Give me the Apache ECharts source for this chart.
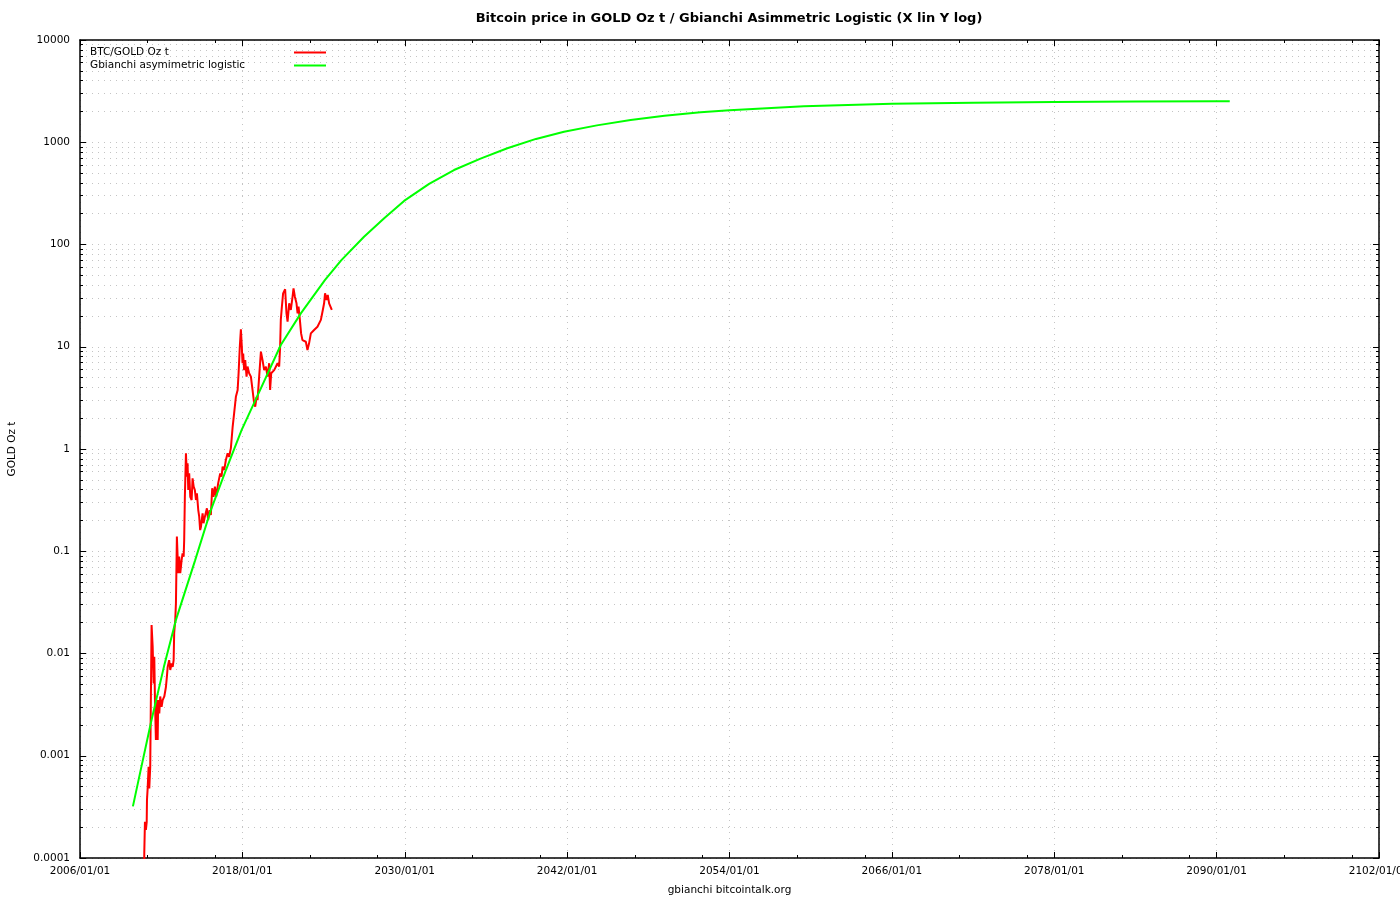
<!DOCTYPE html>
<html><head><meta charset="utf-8">
<script src="https://cdn.jsdelivr.net/npm/echarts@6/dist/echarts.min.js"></script>
<style>html,body{margin:0;padding:0;background:#fff}#c{width:1400px;height:900px}</style>
</head><body><div id="c"></div>
<script>
// ---- data ----
const btcYears = [2010.74, 2010.75, 2010.80, 2010.87, 2010.93, 2010.95, 2011.00, 2011.07, 2011.12, 2011.19,
  2011.29, 2011.37, 2011.44, 2011.49, 2011.54, 2011.61, 2011.69, 2011.74, 2011.78, 2011.86,
  2011.93, 2012.03, 2012.11, 2012.23, 2012.35, 2012.42, 2012.48, 2012.59, 2012.67, 2012.77,
  2012.85, 2012.92, 2012.96, 2013.04, 2013.09, 2013.16, 2013.26, 2013.33, 2013.41, 2013.51,
  2013.58, 2013.66, 2013.70, 2013.75, 2013.83, 2013.90, 2013.95, 2014.00, 2014.07, 2014.15,
  2014.25, 2014.32, 2014.40, 2014.49, 2014.57, 2014.64, 2014.74, 2014.81, 2014.88, 2014.94,
  2015.06, 2015.13, 2015.23, 2015.38, 2015.47, 2015.58, 2015.67, 2015.77, 2015.87, 2015.97,
  2016.06, 2016.21, 2016.36, 2016.46, 2016.54, 2016.66, 2016.78, 2016.91, 2017.02, 2017.15,
  2017.28, 2017.39, 2017.52, 2017.65, 2017.72, 2017.81, 2017.89, 2017.96, 2018.01, 2018.06,
  2018.13, 2018.21, 2018.31, 2018.38, 2018.50, 2018.63, 2018.75, 2018.87, 2018.95, 2019.05,
  2019.12, 2019.24, 2019.37, 2019.49, 2019.61, 2019.74, 2019.86, 2019.98, 2020.05, 2020.13,
  2020.23, 2020.35, 2020.47, 2020.60, 2020.72, 2020.79, 2020.84, 2020.92, 2021.01, 2021.16,
  2021.26, 2021.34, 2021.46, 2021.58, 2021.71, 2021.78, 2021.88, 2022.00, 2022.08, 2022.15,
  2022.25, 2022.34, 2022.44, 2022.56, 2022.69, 2022.81, 2022.93, 2023.06, 2023.18, 2023.30,
  2023.43, 2023.55, 2023.67, 2023.80, 2023.92, 2024.04, 2024.11, 2024.22, 2024.31, 2024.41,
  2024.53, 2024.61];
const btcValues = [0.00007, 0.000111, 0.000226, 0.000188, 0.000226, 0.00037, 0.00048, 0.00078, 0.00048, 0.00078,
  0.019, 0.0117, 0.0051, 0.0093, 0.0035, 0.00143, 0.0035, 0.00143, 0.0035, 0.0026,
  0.0038, 0.0030, 0.0035, 0.0038, 0.0047, 0.0059, 0.0074, 0.0086, 0.0069, 0.0080,
  0.0074, 0.0086, 0.0158, 0.0213, 0.031, 0.139, 0.061, 0.0885, 0.061, 0.082,
  0.0955, 0.0885, 0.129, 0.341, 0.907, 0.536, 0.724, 0.397, 0.578, 0.341,
  0.317, 0.516, 0.428, 0.397, 0.317, 0.369, 0.253, 0.218, 0.161, 0.174,
  0.235, 0.188, 0.218, 0.263, 0.202, 0.253, 0.226, 0.413, 0.341, 0.428,
  0.341, 0.461, 0.578, 0.536, 0.671, 0.624, 0.78, 0.907, 0.84, 1.02,
  1.64, 2.23, 3.24, 3.78, 5.5, 10.0, 14.8, 10.0, 6.9, 8.6,
  5.9, 7.4, 5.1, 6.4, 5.5, 5.1, 3.78, 2.80, 2.59, 3.24,
  3.01, 5.1, 8.95, 7.4, 5.9, 6.4, 5.1, 6.9, 3.78, 5.5,
  5.5, 5.9, 5.7, 6.9, 6.4, 10.0, 18.3, 24.7, 33.3, 36.5,
  21.2, 17.6, 26.6, 22.9, 30.9, 37.3, 30.9, 26.6, 21.2, 24.7,
  18.3, 13.5, 11.6, 12.1, 11.2, 9.3, 10.8, 13.5, 13.0, 14.6,
  14.0, 15.7, 15.2, 18.3, 22.0, 26.6, 33.3, 28.6, 32.1, 26.6,
  25.6, 22.9];
const fitYears = [2009.91, 2010.5, 2011.24, 2012.2, 2013.09, 2014.5, 2015.67, 2016.8, 2017.94, 2019.4,
  2020.84, 2022.32, 2024.11, 2025.3, 2026.99, 2028.5, 2029.95, 2031.8, 2033.64, 2035.6,
  2037.58, 2039.7, 2041.77, 2044.2, 2046.69, 2049.2, 2051.86, 2054, 2059.5, 2066,
  2072, 2078, 2084, 2090, 2090.97];
const fitValues = [0.00032, 0.00074, 0.0021, 0.0074, 0.0213, 0.081, 0.253, 0.63, 1.53, 4.0,
  10.4, 21.2, 45, 70, 119, 182, 267, 392, 535, 692,
  873, 1078, 1268, 1462, 1651, 1816, 1963, 2060, 2250, 2375,
  2440, 2478, 2500, 2512, 2513];

const xMajorTicks = [2006, 2018, 2030, 2042, 2054, 2066, 2078, 2090, 2102];
const xTickLabels = ['2006/01/01', '2018/01/01', '2030/01/01', '2042/01/01', '2054/01/01',
  '2066/01/01', '2078/01/01', '2090/01/01', '2102/01/01'];
const xMinorTicks = [2011, 2016, 2023, 2028, 2035, 2040, 2047, 2052, 2059, 2064, 2071, 2076, 2083, 2088, 2095, 2100];
const yMajorTicks = [0.0001, 0.001, 0.01, 0.1, 1, 10, 100, 1000, 10000];
const yTickLabels = ['0.0001', '0.001', '0.01', '0.1', '1', '10', '100', '1000', '10000'];
const yMinorTicks = [];
yMajorTicks.slice(0, -1).forEach(d => { for (let m = 2; m <= 9; m++) yMinorTicks.push(+(d * m).toPrecision(3)); });

const seriesNames = ['BTC/GOLD Oz t', 'Gbianchi asymimetric logistic'];
const titleText = 'Bitcoin price in GOLD Oz t / Gbianchi Asimmetric Logistic (X lin Y log)';

// ---- chart ----
const FONT = 'DejaVu Sans';
const FS = 10.5;
const gridLine = { show: true, lineStyle: { color: '#c4c4c4', width: 1, type: [1, 5] } };
const border = { show: true, lineStyle: { color: '#000', width: 1.5 } };

function xAxisDef(pos, ticks, len, major, main) {
  return {
    type: 'value', min: 2006, max: 2102, position: pos,
    axisLine: major ? border : { show: false },
    axisTick: { show: true, inside: true, length: len, customValues: ticks, lineStyle: { color: '#000', width: 1 } },
    axisLabel: main ? {
      show: true, customValues: ticks, fontFamily: FONT, fontSize: FS, color: '#000', margin: 8,
      formatter: v => xTickLabels[xMajorTicks.indexOf(Math.round(v))]
    } : { show: false },
    splitLine: main ? gridLine : { show: false },
    name: main ? 'gbianchi bitcointalk.org' : '',
    nameLocation: 'middle', nameGap: 27,
    nameTextStyle: { fontFamily: FONT, fontSize: FS, color: '#000' }
  };
}
function yAxisDef(pos, ticks, len, major, main, grid) {
  return {
    type: 'log', logBase: 10, min: 0.0001, max: 10000, position: pos,
    axisLine: major ? border : { show: false },
    axisTick: { show: true, inside: true, length: len, customValues: ticks, lineStyle: { color: '#000', width: 1 } },
    axisLabel: main ? {
      show: true, customValues: ticks, fontFamily: FONT, fontSize: FS, color: '#000', margin: 10,
      formatter: v => yTickLabels[Math.round(Math.log10(v)) + 4]
    } : { show: false },
    splitLine: grid ? gridLine : { show: false },
    minorTick: { show: false }, minorSplitLine: { show: false },
    name: main ? 'GOLD Oz t' : '',
    nameLocation: 'middle', nameRotate: 90, nameGap: 62,
    nameTextStyle: { fontFamily: FONT, fontSize: FS, color: '#000' }
  };
}

const chart = echarts.init(document.getElementById('c'), null, { renderer: 'canvas' });
chart.setOption({
  animation: false,
  backgroundColor: '#fff',
  title: {
    text: titleText, left: 729, textAlign: 'center', top: 12, padding: 0,
    textStyle: { fontFamily: FONT, fontSize: 13, fontWeight: 'bold', color: '#000' }
  },
  legend: {
    orient: 'vertical', left: 85, top: 42, itemGap: 2, itemWidth: 32, itemHeight: 2,
    icon: 'rect', align: 'right', selectedMode: false,
    data: seriesNames,
    formatter: n => '{a|' + n + '}',
    textStyle: { fontFamily: FONT, fontSize: FS, color: '#000',
      rich: { a: { width: 199, align: 'left', fontFamily: FONT, fontSize: FS, color: '#000', lineHeight: 11 } } }
  },
  grid: { left: 80, right: 21, top: 40, bottom: 42, containLabel: false, outerBoundsMode: 'none' },
  xAxis: [
    xAxisDef('bottom', xMajorTicks, 6, true, true),
    xAxisDef('bottom', xMinorTicks, 3, false, false),
    xAxisDef('top', xMajorTicks, 6, true, false),
    xAxisDef('top', xMinorTicks, 3, false, false)
  ],
  yAxis: [
    yAxisDef('left', yMajorTicks, 6, true, true, true),
    yAxisDef('left', yMinorTicks, 3, false, false, true),
    yAxisDef('right', yMajorTicks, 6, true, false, false),
    yAxisDef('right', yMinorTicks, 3, false, false, false)
  ],
  series: [
    {
      name: seriesNames[0], type: 'line', xAxisIndex: 0, yAxisIndex: 0,
      data: btcYears.map((y, i) => [y, btcValues[i]]),
      symbol: 'none', showSymbol: false, clip: true, color: '#ff0000',
      lineStyle: { color: '#ff0000', width: 2 }, z: 3
    },
    {
      name: seriesNames[1], type: 'line', xAxisIndex: 0, yAxisIndex: 0,
      data: fitYears.map((y, i) => [y, fitValues[i]]),
      symbol: 'none', showSymbol: false, clip: true, color: '#00ff00',
      lineStyle: { color: '#00ff00', width: 2 }, z: 4
    }
  ]
});
</script></body></html>
